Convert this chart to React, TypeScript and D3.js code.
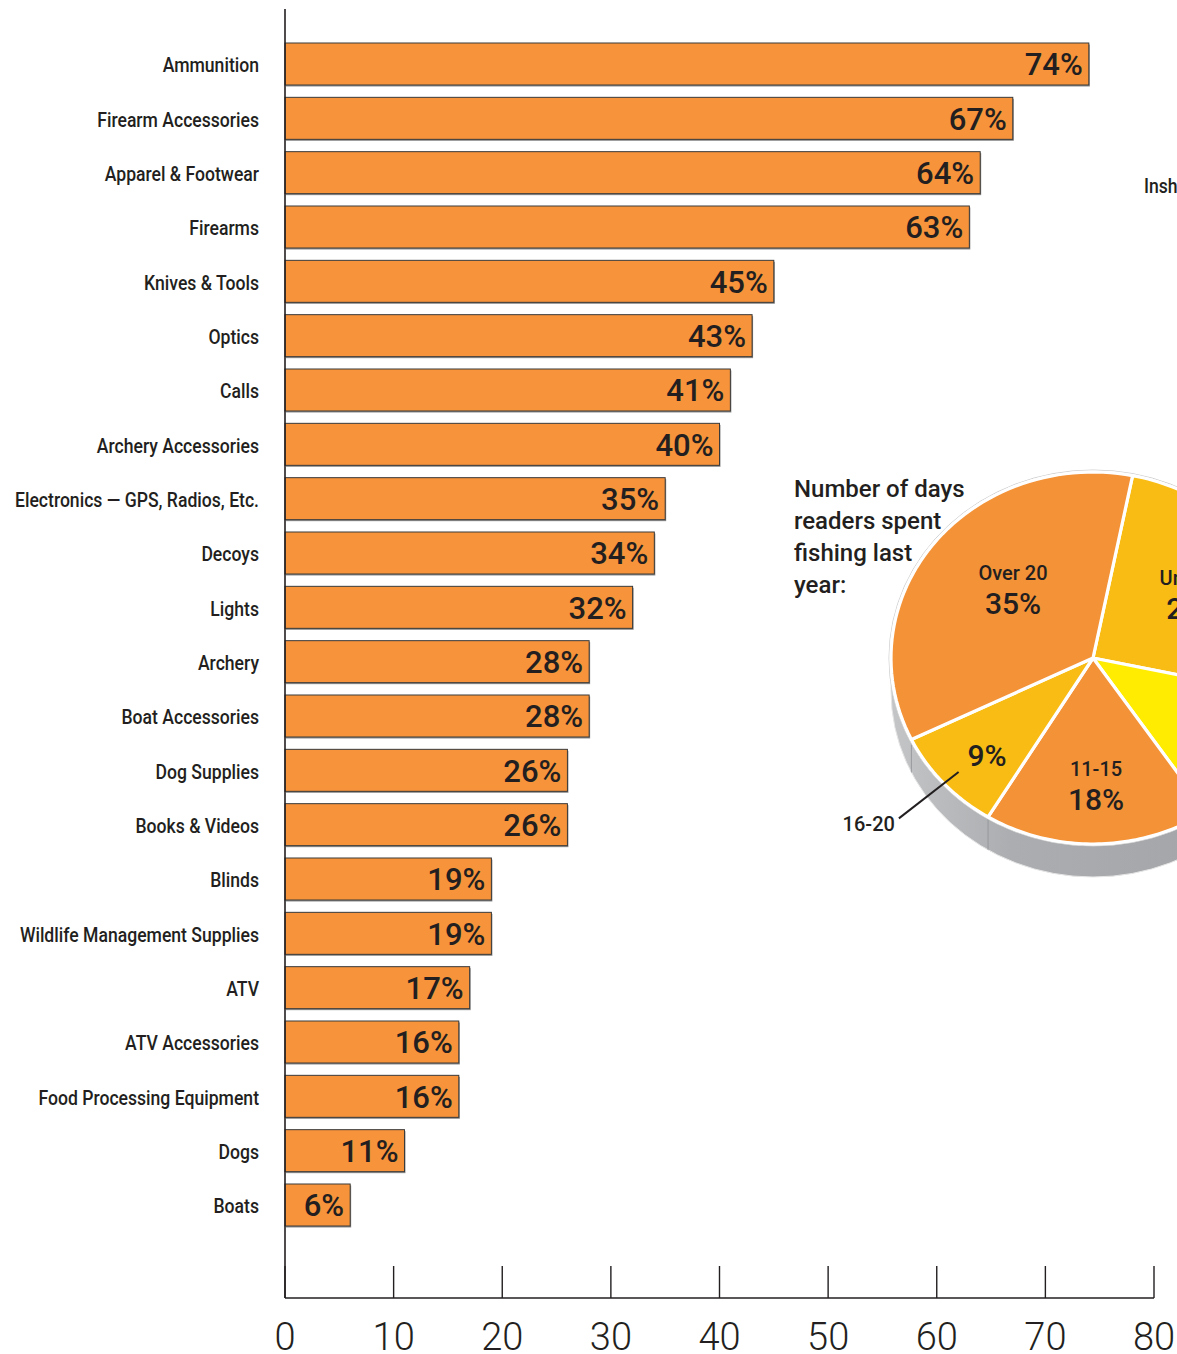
import * as React from 'react';
import * as d3 from 'd3';

const categories = [
    'Ammunition', 'Firearm Accessories', 'Apparel & Footwear', 'Firearms', 'Knives & Tools',
    'Optics', 'Calls', 'Archery Accessories', 'Electronics — GPS, Radios, Etc.', 'Decoys',
    'Lights', 'Archery', 'Boat Accessories', 'Dog Supplies', 'Books & Videos', 'Blinds',
    'Wildlife Management Supplies', 'ATV', 'ATV Accessories', 'Food Processing Equipment',
    'Dogs', 'Boats'
];
const shares = [74, 67, 64, 63, 45, 43, 41, 40, 35, 34, 32, 28, 28, 26, 26, 19, 19, 17, 16, 16, 11, 6];
const xTicks = [0, 10, 20, 30, 40, 50, 60, 70, 80];

const pieTitle = ['Number of days', 'readers spent', 'fishing last', 'year:'];
const pieLabels = ['Under 5', '6-10', '11-15', '16-20', 'Over 20'];
const pieValues = [25, 12, 18, 9, 35];
const sideNote = 'Inshore';

const W = 1177;
const H = 1354;
const ink = '#231f20';
const barFill = '#f7943b';
const pieColors = ['#f8bc14', '#ffec00', '#f39237', '#f8bc14', '#f39237'];

const font = 'Roboto, "Liberation Sans", sans-serif';

// where each slice label sits, as fraction of the radii (x, y)
const labelSpot: Record<string, [number, number]> = {
    'Under 5': [0.6, 0.62],
    '11-15': [0.6, 0.69],
    'Over 20': [0.5, 0.6],
    '16-20': [0.71, 0.78],
};

const App: React.FC = () => {
    const x = d3.scaleLinear().domain([0, 80]).range([285, 1154]);
    const y = d3.scaleBand().domain(categories).range([43, 1226]).paddingInner(0.227);

    // pie drawn as an ellipse (tilted 3D look)
    const cx = 1093, cy = 658, rx = 202, ry = 186, depth = 33;
    const startDeg = 11.3;
    const pie = d3.pie<number>().sort(null)
        .startAngle(startDeg * Math.PI / 180)
        .endAngle((startDeg + 360) * Math.PI / 180);
    const slices = pie(pieValues);

    // point on ellipse, angle clockwise from 12 o'clock
    const pt = (a: number, fx: number, fy: number = fx) => [cx + Math.sin(a) * rx * fx, cy - Math.cos(a) * ry * fy];
    const slicePath = (a0: number, a1: number) => {
        const n = 60;
        const pts = d3.range(n + 1).map(i => pt(a0 + (a1 - a0) * i / n, 1));
        return `M${cx},${cy}L` + pts.map(p => p.join(',')).join('L') + 'Z';
    };

    const sidePath = `M${cx + rx},${cy} A${rx} ${ry} 0 0 1 ${cx - rx},${cy} L${cx - rx},${cy + depth} A${rx} ${ry} 0 0 0 ${cx + rx},${cy + depth} Z`;

    const inLower = (v: number) => {
        const m = ((v % (2 * Math.PI)) + 2 * Math.PI) % (2 * Math.PI);
        return m > Math.PI / 2 && m < Math.PI * 1.5;
    };

    return (
        <svg width={W} height={H} style={{ position: 'absolute', left: 0, top: 0, background: '#fff' }}>
            <defs>
                <linearGradient id="side" x1="0" x2="1" y1="0" y2="0">
                    <stop offset="0" stopColor="#c4c5c7" />
                    <stop offset="0.3" stopColor="#abadb0" />
                    <stop offset="1" stopColor="#a0a2a5" />
                </linearGradient>
            </defs>

            {/* bars */}
            {categories.map((c, i) => {
                const y0 = y(c) as number;
                const bw = y.bandwidth();
                const x1 = x(shares[i]);
                return (
                    <g key={c}>
                        <rect x={x(0) + 1} y={y0 + 1.5} width={x1 - x(0)} height={bw} fill="#8c8c8c" />
                        <rect x={x(0)} y={y0} width={x1 - x(0)} height={bw} fill={barFill} stroke="#3a3a3a" strokeWidth={1} />
                        <text transform={`translate(259,${y0 + bw / 2 + 1}) scale(0.88,1)`} dy="0.36em" textAnchor="end"
                            fontFamily={font} fontWeight={500} fontSize={20} fill={ink}>{c}</text>
                        <text x={x1 - 6} y={y0 + bw / 2} dy="0.37em" textAnchor="end"
                            fontFamily={font} fontWeight={500} fontSize={31} fill={ink}>{shares[i]}%</text>
                    </g>
                );
            })}

            {/* axes */}
            <line x1={x(0)} x2={x(0)} y1={9} y2={1298} stroke={ink} strokeWidth={1.6} />
            <line x1={x(0)} x2={x(80)} y1={1298} y2={1298} stroke={ink} strokeWidth={1.6} />
            {xTicks.map(t => (
                <g key={t}>
                    <line x1={x(t)} x2={x(t)} y1={1266} y2={1298} stroke={ink} strokeWidth={1.4} />
                    <text x={x(t)} y={1350} textAnchor="middle" fontFamily={font} fontWeight={300}
                        fontSize={38} fill={ink}>{t}</text>
                </g>
            ))}

            <text transform={`translate(1144,186) scale(0.88,1)`} dy="0.36em" fontFamily={font}
                fontWeight={500} fontSize={20} fill={ink}>{sideNote}</text>

            {/* pie */}
            <path d={sidePath} fill="url(#side)" stroke="#e6e6e6" strokeWidth={1} />
            {slices.map((s, i) => {
                if (!inLower(s.startAngle)) return null;
                const p = pt(s.startAngle, 1);
                return <line key={'s' + i} x1={p[0]} x2={p[0]} y1={p[1]} y2={p[1] + depth} stroke="#8f9194" strokeWidth={0.8} />;
            })}
            <ellipse cx={cx} cy={cy} rx={rx + 2} ry={ry + 2} fill="#fff" stroke="#d0d0d0" strokeWidth={1} />
            {slices.map((s, i) => (
                <path key={i} d={slicePath(s.startAngle, s.endAngle)} fill={pieColors[i]}
                    stroke="#fff" strokeWidth={3.2} strokeLinejoin="round" />
            ))}
            {slices.map((s, i) => {
                const mid = (s.startAngle + s.endAngle) / 2;
                const lbl = pieLabels[i];
                const spot = labelSpot[lbl];
                if (!spot) return null;
                const c = pt(mid, spot[0], spot[1]);
                if (lbl === '16-20') {
                    const l0 = pt(mid, 0.9, 0.91);
                    const l1 = pt(mid, 1.3, 1.28);
                    return (
                        <g key={i}>
                            <text x={c[0]} y={c[1] + 10} textAnchor="middle" fontFamily={font}
                                fontWeight={500} fontSize={30} fill={ink}>{s.data}%</text>
                            <line x1={l0[0]} y1={l0[1]} x2={l1[0]} y2={l1[1]} stroke={ink} strokeWidth={2} />
                            <text x={l1[0] - 4} y={l1[1] + 13} textAnchor="end" fontFamily={font}
                                fontWeight={500} fontSize={20} fill={ink}>{lbl}</text>
                        </g>
                    );
                }
                return (
                    <g key={i}>
                        <text x={c[0]} y={c[1] - 10} textAnchor="middle" fontFamily={font}
                            fontWeight={500} fontSize={20} fill={ink}>{lbl}</text>
                        <text x={c[0]} y={c[1] + 24} textAnchor="middle" fontFamily={font}
                            fontWeight={500} fontSize={30} fill={ink}>{s.data}%</text>
                    </g>
                );
            })}

            {pieTitle.map((t, i) => (
                <text key={t} x={794} y={497 + i * 32} fontFamily={font} fontWeight={500}
                    fontSize={24} fill={ink}>{t}</text>
            ))}
        </svg>
    );
};

export default App;
